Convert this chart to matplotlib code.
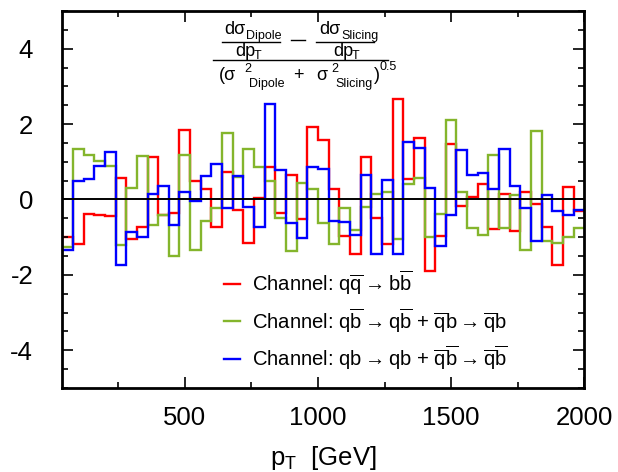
import numpy as np
import matplotlib
matplotlib.use('Agg')
import matplotlib.pyplot as plt
from matplotlib.ticker import MultipleLocator
from matplotlib.lines import Line2D

plt.rcParams['font.family'] = ['Liberation Sans', 'DejaVu Sans']
plt.rcParams['mathtext.fontset'] = 'custom'
plt.rcParams['mathtext.rm'] = 'Liberation Sans'
plt.rcParams['mathtext.it'] = 'Liberation Sans'
plt.rcParams['mathtext.sf'] = 'Liberation Sans'
plt.rcParams['axes.unicode_minus'] = False

# бины по pT, ширина 40 ГэВ
pt_edges = np.arange(40, 2001, 40)

# (dσ_Dipole - dσ_Slicing) / sqrt(σ²_Dipole + σ²_Slicing)
pull_qqbar = [-1.00, -1.18, -0.38, -0.42, -0.44, 0.58, -1.06, -0.72, 1.14, -0.42,
              -0.35, 1.85, 0.48, 0.28, -0.72, 0.72, -0.28, -1.16, 0.04, 0.86,
              -0.36, 0.65, -0.53, 1.93, 1.57, 0.27, -0.97, -1.44, 1.12, -0.50,
              -1.19, 2.67, 0.55, 1.63, -1.91, -0.97, 1.48, -0.16, 0.06, 0.42,
              -0.78, 0.15, -0.83, 0.21, -0.12, -0.73, -1.73, 0.32, -0.31]
pull_qbbar = [-1.27, 1.35, 1.17, 1.02, 0.88, -1.22, 0.30, 1.15, -0.68, -0.40,
              -1.50, 1.19, -1.33, -0.58, -0.23, 1.76, 0.60, 1.33, 0.85, 0.49,
              -0.50, -1.37, 0.45, 0.27, -0.62, -1.18, -0.23, -0.80, -0.20, 0.15,
              0.19, -1.04, 0.40, 0.58, -1.00, -0.38, 2.12, 0.21, -0.76, -0.95,
              1.19, -0.75, 0.11, -1.34, 1.81, -1.11, -1.15, -1.00, -0.76]
pull_qb = [-1.33, 0.49, 0.55, 0.88, 1.25, -1.74, -0.85, -0.99, 0.14, 0.37,
           -0.67, 0.19, -0.03, 0.61, 0.94, -0.22, 0.61, -0.21, -0.72, 2.52,
           0.79, -0.63, -1.03, 0.86, 0.80, -0.57, -0.59, -0.93, 0.65, -1.44,
           0.53, -1.44, 1.52, 1.36, 0.30, -1.24, -0.42, 1.30, 0.64, 0.71,
           0.28, 1.35, 0.37, -0.22, -1.09, 0.12, -0.31, -0.42, -0.27]

labels = [r'Channel: $\mathrm{q\overline{q} \rightarrow b\overline{b}}$',
          r'Channel: $\mathrm{q\overline{b} \rightarrow q\overline{b}}$ + $\mathrm{\overline{q}b \rightarrow \overline{q}b}$',
          r'Channel: $\mathrm{qb \rightarrow qb}$ + $\mathrm{\overline{q}\overline{b} \rightarrow \overline{q}\overline{b}}$']
colors = ['#ff0000', '#84b52c', '#0000ff']

fig = plt.figure(figsize=(6.18, 4.72), dpi=100)
ax = fig.add_axes([0.1008, 0.178, 0.8447, 0.7987])

for vals, c, lab in zip([pull_qqbar, pull_qbbar, pull_qb], colors, labels):
    ax.stairs(vals, pt_edges, baseline=None, color=c, lw=1.7, label=lab)
ax.axhline(0, color='k', lw=1.4, zorder=5)

ax.set_xlim(40, 2000)
ax.set_ylim(-5, 5)
ax.xaxis.set_major_locator(MultipleLocator(500))
ax.xaxis.set_minor_locator(MultipleLocator(250))
ax.yaxis.set_major_locator(MultipleLocator(2))
ax.yaxis.set_minor_locator(MultipleLocator(0.5))
ax.tick_params(which='both', direction='in', top=True, right=True, width=1.2)
ax.tick_params(which='major', length=8, labelsize=18.5)
ax.tick_params(which='minor', length=4)
ax.tick_params(axis='x', pad=13)
ax.tick_params(axis='y', pad=21)
for s in ax.spines.values():
    s.set_linewidth(2)
ax.set_xlabel(r'p$_\mathrm{T}$  [GeV]', fontsize=18.5, labelpad=10)

leg = ax.legend(loc='upper left', bbox_to_anchor=(0.274, 0.365), frameon=False,
                fontsize=14.6, handlelength=0.8, handletextpad=0.6, labelspacing=0.45)


# формула в верхней части (координаты в пикселях рисунка)
def fx(px):
    return px / 618


def fy(py):
    return 1 - py / 472


fs, fss = 13, 9
fig.text(fx(224), fy(34), 'dσ', fontsize=fs)
fig.text(fx(246), fy(39), 'Dipole', fontsize=fss)
fig.text(fx(235), fy(56), 'dp', fontsize=fs)
fig.text(fx(254), fy(59), 'T', fontsize=fss)
fig.text(fx(319), fy(34), 'dσ', fontsize=fs)
fig.text(fx(341), fy(39), 'Slicing', fontsize=fss)
fig.text(fx(333), fy(56), 'dp', fontsize=fs)
fig.text(fx(352), fy(59), 'T', fontsize=fss)
fig.add_artist(Line2D([fx(222), fx(280)], [fy(42), fy(42)], color='k', lw=1))
fig.add_artist(Line2D([fx(316), fx(374)], [fy(42), fy(42)], color='k', lw=1))
fig.add_artist(Line2D([fx(291), fx(305)], [fy(40), fy(40)], color='k', lw=1))
fig.add_artist(Line2D([fx(213), fx(388)], [fy(60), fy(60)], color='k', lw=1))
fig.text(fx(219), fy(80), '(σ', fontsize=fs)
fig.text(fx(244), fy(72), '2', fontsize=fss)
fig.text(fx(249), fy(87), 'Dipole', fontsize=fss)
fig.text(fx(293), fy(80), '+', fontsize=fs)
fig.text(fx(316), fy(80), 'σ', fontsize=fs)
fig.text(fx(331), fy(72), '2', fontsize=fss)
fig.text(fx(335), fy(87), 'Slicing', fontsize=fss)
fig.text(fx(374), fy(80), ')', fontsize=fs)
fig.text(fx(380), fy(70), '0.5', fontsize=fss)

fig.savefig('out.png', dpi=100)
